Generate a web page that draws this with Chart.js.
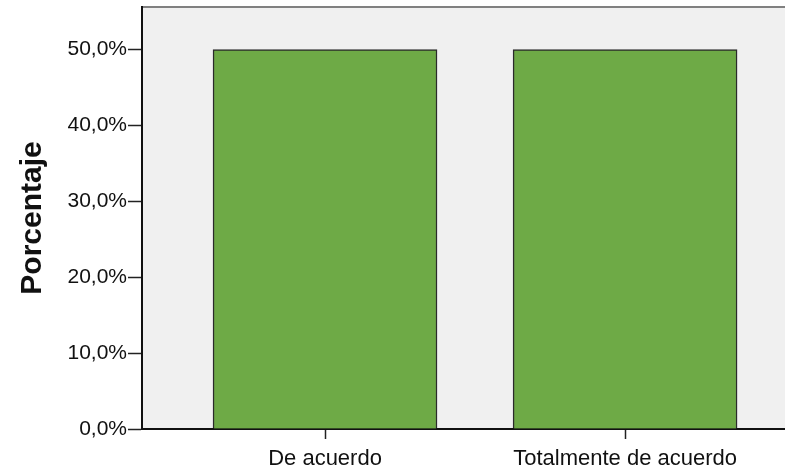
<!DOCTYPE html>
<html>
<head>
<meta charset="utf-8">
<script src="https://cdn.jsdelivr.net/npm/chart.js@4/dist/chart.umd.min.js"></script>
<style>
  html, body { margin: 0; padding: 0; background: #fff; }
  #wrap { width: 785px; height: 469px; }
</style>
</head>
<body>
<div id="wrap"><canvas id="myChart"></canvas></div>
<script>
const categories = ['De acuerdo', 'Totalmente de acuerdo'];
const percentages = [50, 50];
const yTicks = [0, 10, 20, 30, 40, 50];
const yTitle = 'Porcentaje';

const FONT = "'Liberation Sans', Arial, sans-serif";

// grey plot background + top frame line
const plotBackground = {
    id: 'plotBackground',
    beforeDraw(chart) {
        const {ctx, chartArea: a} = chart;
        ctx.save();
        ctx.fillStyle = '#f0f0f0';
        ctx.fillRect(a.left, a.top, a.right - a.left, a.bottom - a.top);
        ctx.strokeStyle = '#808080';
        ctx.lineWidth = 2;
        ctx.beginPath();
        ctx.moveTo(a.left, a.top);
        ctx.lineTo(a.right, a.top);
        ctx.stroke();
        ctx.restore();
    }
};

const ctx = document.getElementById('myChart').getContext('2d');
new Chart(ctx, {
    type: 'bar',
    data: {
        datasets: [{
            data: percentages.map((v, i) => ({x: i, y: v})),
            backgroundColor: '#6eaa46',
            borderColor: '#2a2a2a',
            borderWidth: 1.5,
            barThickness: 224
        }]
    },
    plugins: [plotBackground],
    options: {
        responsive: true,
        maintainAspectRatio: false,
        animation: false,
        layout: { padding: { top: 7, right: 0, left: 0, bottom: 0 } },
        plugins: {
            legend: { display: false },
            tooltip: { enabled: false }
        },
        scales: {
            x: {
                type: 'linear',
                offset: false,
                min: -0.61,
                max: 1.533,
                afterBuildTicks: (scale) => {
                    scale.ticks = categories.map((c, i) => ({value: i}));
                },
                afterFit: (scale) => {
                    scale.height = 40;
                    scale.paddingLeft = 0;
                    scale.paddingRight = 0;
                },
                ticks: {
                    autoSkip: false,
                    maxRotation: 0,
                    padding: 7,
                    color: '#111',
                    font: { family: FONT, size: 22 },
                    callback: (v) => categories[v]
                },
                grid: {
                    offset: false,
                    drawOnChartArea: false,
                    drawTicks: true,
                    tickLength: 10,
                    tickColor: '#222',
                    tickWidth: 1.5
                },
                border: { display: true, color: '#111', width: 2 }
            },
            y: {
                min: 0,
                max: 55.6,
                afterBuildTicks: (scale) => {
                    scale.ticks = yTicks.map(v => ({value: v}));
                },
                afterFit: (scale) => {
                    scale.width = 142;
                    scale.paddingTop = 0;
                    scale.paddingBottom = 0;
                },
                title: {
                    display: true,
                    text: yTitle,
                    color: '#111',
                    font: { family: FONT, size: 30, weight: 'bold' },
                    padding: { top: 15, bottom: 0 }
                },
                ticks: {
                    padding: 1,
                    color: '#111',
                    font: { family: FONT, size: 21 },
                    callback: (v) => v.toFixed(1).replace('.', ',') + '%'
                },
                grid: {
                    drawOnChartArea: false,
                    drawTicks: true,
                    tickLength: 14,
                    tickColor: '#222',
                    tickWidth: 1.5
                },
                border: { display: true, color: '#111', width: 2 }
            }
        }
    }
});
</script>
</body>
</html>
